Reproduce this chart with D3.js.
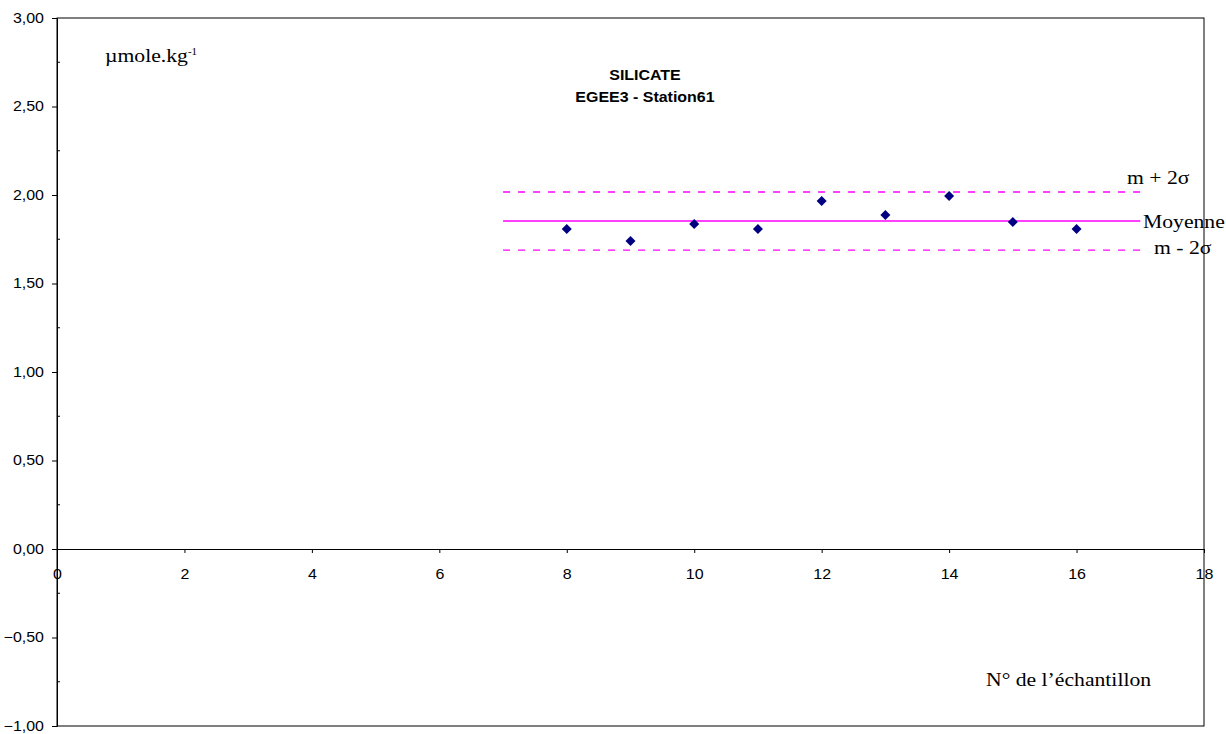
<!DOCTYPE html>
<html><head><meta charset="utf-8">
<script src="https://cdn.jsdelivr.net/npm/d3@7"></script>
<style>body{margin:0;background:#fff}svg{display:block}</style>
</head><body>
<script>
const sampleNo = [8, 9, 10, 11, 12, 13, 14, 15, 16];
const silicate = [1.808, 1.740, 1.836, 1.808, 1.966, 1.887, 1.994, 1.847, 1.808];
const meanVal = 1.853;
const plus2s = 2.017;
const minus2s = 1.689;
const refLineRange = [7, 17];
const xTicks = [0, 2, 4, 6, 8, 10, 12, 14, 16, 18];
const yTicks = [-1, -0.5, 0, 0.5, 1, 1.5, 2, 2.5, 3];
const yMinor = [-0.75, -0.25, 0.25, 0.75, 1.25, 1.75, 2.25, 2.75];

const W = 1226, H = 734;
const STRETCH = 1.14;
const svg = d3.select("body").append("svg").attr("width", W).attr("height", H);
const x = d3.scaleLinear().domain([0, 18]).range([57, 1204]);
const y = d3.scaleLinear().domain([-1, 3]).range([726, 18]);
const fmt = v => d3.format(".2f")(v).replace(".", ",");
const serif = "Liberation Serif, Times New Roman, serif";
const sans = "Liberation Sans, Arial, sans-serif";

// frame
svg.append("rect").attr("x", x(0)).attr("y", y(3)).attr("width", x(18) - x(0)).attr("height", y(-1) - y(3))
  .attr("fill", "none").attr("stroke", "#000").attr("stroke-width", 1);

// y axis
const yAx = svg.append("g").attr("transform", `translate(${x(0)},0)`)
  .call(d3.axisLeft(y).tickValues(yTicks).tickFormat(fmt).tickSize(5).tickPadding(8));
yAx.select(".domain").attr("stroke", "#000");
yAx.selectAll("line").attr("stroke", "#000");
yAx.selectAll("text").attr("font-family", sans).attr("font-size", 14).attr("fill", "#000");
svg.append("g").selectAll("line").data(yMinor).join("line")
  .attr("x1", x(0)).attr("x2", x(0) + 3).attr("y1", d => y(d)).attr("y2", d => y(d)).attr("stroke", "#000");

// x axis at y=0
const xAx = svg.append("g").attr("transform", `translate(0,${y(0)})`)
  .call(d3.axisBottom(x).tickValues(xTicks).tickFormat(d3.format("d")).tickSize(4).tickPadding(16));
xAx.select(".domain").attr("stroke", "#000");
xAx.selectAll("line").attr("stroke", "#000");
xAx.selectAll("text").attr("font-family", sans).attr("font-size", 14).attr("fill", "#000");

// reference lines
const refs = [
  {v: plus2s, dash: "7,8"},
  {v: meanVal, dash: "none"},
  {v: minus2s, dash: "7,8"}
];
svg.append("g").selectAll("line").data(refs).join("line")
  .attr("x1", x(refLineRange[0])).attr("x2", x(refLineRange[1]))
  .attr("y1", d => y(d.v)).attr("y2", d => y(d.v))
  .style("stroke", "#ff00ff").style("stroke-width", 1.3)
  .style("stroke-dasharray", d => d.dash);

// points
svg.append("g").selectAll("path").data(sampleNo.map((n, i) => [n, silicate[i]])).join("path")
  .attr("d", d3.symbol(d3.symbolDiamond2, 64)())
  .attr("transform", d => `translate(${x(d[0])},${y(d[1])})`)
  .attr("fill", "#000080");

// labels
const lab = svg.append("g").attr("class", "labels");
lab.append("text").attr("x", 1127).attr("y", 184).attr("font-family", serif).attr("font-size", 19).text("m + 2σ");
lab.append("text").attr("x", 1143).attr("y", 228).attr("font-family", serif).attr("font-size", 19).text("Moyenne");
lab.append("text").attr("x", 1154).attr("y", 254).attr("font-family", serif).attr("font-size", 19).text("m - 2σ");

lab.append("text").attr("x", 645).attr("y", 80).attr("text-anchor", "middle").attr("font-family", sans)
  .attr("font-weight", "bold").attr("font-size", 14).text("SILICATE");
lab.append("text").attr("x", 645).attr("y", 102).attr("text-anchor", "middle").attr("font-family", sans)
  .attr("font-weight", "bold").attr("font-size", 14).text("EGEE3 - Station61");

lab.append("text").attr("x", 986).attr("y", 686).attr("font-family", serif).attr("font-size", 19).text("N° de l’échantillon");

// stretch texts horizontally (reference glyphs are wider than natural)
svg.selectAll("text").each(function () {
  const L = this.getComputedTextLength();
  this.setAttribute("textLength", (L * STRETCH).toFixed(1));
  this.setAttribute("lengthAdjust", "spacingAndGlyphs");
});

// unit label with superscript
const u = svg.append("text").attr("x", 105).attr("y", 62).attr("font-family", serif).attr("font-size", 19);
const t1 = u.append("tspan").text("µmole.kg");
u.append("tspan").attr("font-size", 11).attr("dy", -7).text("-1");
const L1 = t1.node().getComputedTextLength();
t1.attr("textLength", (L1 * STRETCH).toFixed(1)).attr("lengthAdjust", "spacingAndGlyphs");
</script>
</body></html>
